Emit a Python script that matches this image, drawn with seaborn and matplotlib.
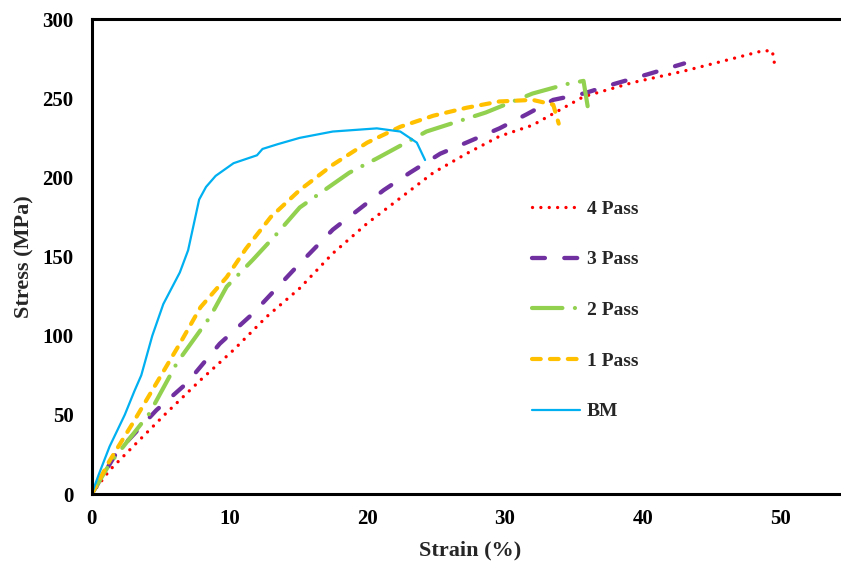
import numpy as np
import pandas as pd
import matplotlib
matplotlib.use('Agg')
import matplotlib.pyplot as plt
import seaborn as sns

# данные (деформация %, напряжение МПа)
p4_strain = [0, 1.3, 3.0, 5.4, 7.9, 10.3, 12.7, 15.1, 17.5, 20.0, 22.4, 24.8, 27.2, 29.6,
             32.0, 35.7, 39.3, 42.9, 46.5, 48.7, 49.4, 49.6]
p4_stress = [0, 15, 30, 51, 72, 91, 112, 130, 152, 171, 187, 203, 215, 226,
             233, 251, 260, 267, 275, 280, 280, 270]

p3_strain = [0, 1.8, 4.7, 6.9, 9.3, 11.7, 14.6, 17.5, 21.2, 23.1, 25.3, 27.2, 29.6, 31.6,
             33.5, 35.7, 37.9, 40.3, 43.0]
p3_stress = [0, 26, 53, 70, 95, 114, 141, 167, 192, 203, 215, 222, 231, 240,
             249, 253, 259, 265, 272]

p2_strain = [0, 1.3, 4.2, 6.2, 8.6, 9.8, 11.7, 13.4, 15.1, 18.7, 20.7, 24.3, 28.6, 32.0,
             34.5, 35.7, 36.0]
p2_stress = [0, 19, 51, 83, 112, 131, 148, 164, 181, 203, 212, 229, 241, 253,
             259, 261, 245]

p1_strain = [0, 1.3, 3.0, 4.7, 6.4, 7.9, 9.8, 11.2, 13.0, 15.1, 17.5, 20.0, 22.4, 24.8,
             27.2, 29.6, 32.0, 33.5, 33.9]
p1_stress = [0, 21, 45, 70, 95, 118, 137, 155, 175, 192, 208, 222, 232, 239,
             244, 248, 249, 246, 234]

bm_strain = [0, 0.5, 1.3, 2.4, 3.1, 3.6, 4.4, 5.2, 5.8, 6.4, 7.0, 7.4, 7.8, 8.3, 9.0,
             10.3, 12.0, 12.4, 13.5, 15.1, 17.5, 20.7, 22.4, 23.6, 24.2]
bm_stress = [0, 12, 30, 50, 65, 75, 100, 120, 130, 140, 154, 170, 186, 194, 201,
             209, 214, 218, 221, 225, 229, 231, 229, 222, 211]

labels = ['4 Pass', '3 Pass', '2 Pass', '1 Pass', 'BM']

sns.set_style('white')
plt.rcParams['font.family'] = ['Liberation Serif', 'DejaVu Serif']
plt.rcParams['font.weight'] = 'bold'
plt.rcParams['axes.labelweight'] = 'bold'

fig = plt.figure(figsize=(8.41, 5.63), dpi=100)
ax = fig.add_axes([0.109, 0.1225, 0.901, 0.8435])

series = [
    (p4_strain, p4_stress, '#FF0000', 2.4, (0, (0.01, 2.5))),
    (p3_strain, p3_stress, '#7030A0', 3.1, (0, (3.0, 4.5))),
    (p2_strain, p2_stress, '#92D050', 3.0, (0, (7.3, 3.0, 0.01, 3.0))),
    (p1_strain, p1_stress, '#FFC000', 3.0, (0, (2.1, 2.2))),
    (bm_strain, bm_stress, '#00B0F0', 1.6, '-'),
]

for (xs, ys, col, lw, ls), lab in zip(series, labels):
    df = pd.DataFrame({'Strain': xs, 'Stress': ys})
    sns.lineplot(data=df, x='Strain', y='Stress', ax=ax, color=col, lw=lw,
                 linestyle=ls, sort=False, estimator=None, label=lab,
                 dash_capstyle='round', solid_capstyle='round')

ax.set_xlim(0, 55)
ax.set_ylim(0, 300)
ax.set_xticks([0, 10, 20, 30, 40, 50])
ax.set_yticks([0, 50, 100, 150, 200, 250, 300])
ax.tick_params(axis='y', pad=13)
ax.tick_params(axis='x', pad=11)
ax.tick_params(direction='in', length=4, width=2, labelsize=15, colors='black')
for s in ax.spines.values():
    s.set_linewidth(2.2)
    s.set_color('black')

ax.set_xlabel('Strain (%)', fontsize=16, labelpad=8)
ax.set_ylabel('Stress (MPa)', fontsize=16, labelpad=6)

leg = ax.legend(loc='upper left', bbox_to_anchor=(0.581, 0.619), frameon=False,
                fontsize=14, handlelength=2.47, handletextpad=0.36, labelspacing=1.7,
                borderpad=0, borderaxespad=0)

fig.savefig('out.png', dpi=100)
